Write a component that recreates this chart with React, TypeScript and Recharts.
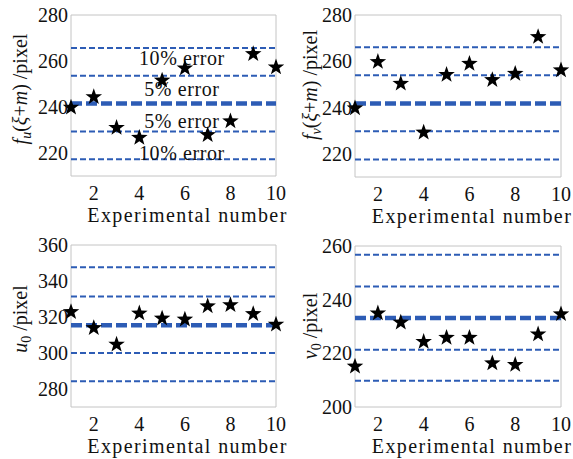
import React from "react";
import {
  ScatterChart,
  Scatter,
  XAxis,
  YAxis,
  ReferenceLine,
  ReferenceArea,
  ReferenceDot,
} from "recharts";

// experiment index on the x axis
const experiments = [1, 2, 3, 4, 5, 6, 7, 8, 9, 10];
const xTicks = [2, 4, 6, 8, 10];

// measured values per experiment
const fuValues = [240.2, 244.8, 231.4, 227.1, 252.0, 257.3, 228.3, 234.3, 263.5, 257.7];
const fvValues = [240.2, 260.2, 250.8, 229.7, 254.6, 259.4, 252.4, 255.1, 271.0, 256.6];
const u0Values = [323.4, 314.5, 305.3, 322.6, 319.8, 319.2, 326.6, 327.2, 322.3, 316.4];
const v0Values = [215.5, 235.3, 231.9, 224.7, 226.2, 226.2, 216.7, 216.1, 227.5, 235.0];

// dashed lines: -10%, -5%, reference, +5%, +10%
const fuLines = [217.3, 229.4, 241.5, 253.6, 265.7];
const fvLines = [217.6, 229.8, 241.8, 254.0, 266.1];
const u0Lines = [284.3, 300.0, 315.4, 331.4, 347.7];
const v0Lines = [209.8, 221.3, 233.2, 244.9, 256.7];

const fuTicks = [220, 240, 260, 280];
const fvTicks = [220, 240, 260, 280];
const u0Ticks = [280, 300, 320, 340, 360];
const v0Ticks = [200, 220, 240, 260];

// error annotations (top-left panel only)
const errorLabels = ["10% error", "5% error", "5% error", "10% error"];
const errorLabelY = [261.5, 247.8, 234.0, 220.2];
const errorLabelX = 5.87;

const FONT = "Liberation Serif, DejaVu Serif, serif";
const BLUE = "#2d5cb5";
const FRAME = "#c4c4c4";
const textStyle = { fontFamily: FONT };

function starPoints(cx: number, cy: number, R: number, r: number) {
  const pts: string[] = [];
  for (let i = 0; i < 10; i++) {
    const a = ((-90 + i * 36) * Math.PI) / 180;
    const rad = i % 2 === 0 ? R : r;
    pts.push(`${cx + rad * Math.cos(a)},${cy + rad * Math.sin(a)}`);
  }
  return pts.join(" ");
}

const Star = (props: any) => {
  const { cx, cy } = props;
  if (cx == null || cy == null) return null;
  return <polygon points={starPoints(cx, cy + 1, 8.7, 3.5)} fill="#000" />;
};

type LabelPart = { t: string; italic?: boolean; sub?: boolean };

const fuLabel: LabelPart[] = [
  { t: "f", italic: true },
  { t: "u", italic: true, sub: true },
  { t: "(" },
  { t: "ξ", italic: true },
  { t: "+" },
  { t: "m", italic: true },
  { t: ") /pixel" },
];
const fvLabel: LabelPart[] = [
  { t: "f", italic: true },
  { t: "v", italic: true, sub: true },
  { t: "(" },
  { t: "ξ", italic: true },
  { t: "+" },
  { t: "m", italic: true },
  { t: ") /pixel" },
];
const u0Label: LabelPart[] = [
  { t: "u", italic: true },
  { t: "0", sub: true },
  { t: " /pixel" },
];
const v0Label: LabelPart[] = [
  { t: "v", italic: true },
  { t: "0", sub: true },
  { t: " /pixel" },
];

function renderParts(parts: LabelPart[]) {
  let shift = 0;
  return parts.map((p, i) => {
    const target = p.sub ? 6 : 0;
    const dy = target - shift;
    shift = target;
    return (
      <tspan
        key={i}
        dy={dy}
        style={{ fontStyle: p.italic ? "italic" : "normal" }}
        fontSize={p.sub ? 14 : 20}
      >
        {p.t}
      </tspan>
    );
  });
}

interface PanelProps {
  values: number[];
  lines: number[];
  domain: [number, number];
  ticks: number[];
  label: LabelPart[];
  left: number;
  top: number;
  width: number;
  height: number;
  yAxisWidth: number;
  marginTop: number;
  marginRight: number;
  xAxisHeight: number;
  labelY: number;
  annotate?: boolean;
}

function Panel(p: PanelProps) {
  const data = experiments.map((x, i) => ({ x, y: p.values[i] }));
  const tickStyle = { fontSize: 20, fill: "#111", style: textStyle };
  return (
    <div style={{ position: "absolute", left: p.left, top: p.top }}>
      <ScatterChart
        width={p.width}
        height={p.height}
        margin={{ top: p.marginTop, right: p.marginRight, left: 0, bottom: 0 }}
        style={textStyle}
      >
        <XAxis
          type="number"
          dataKey="x"
          domain={[1, 10]}
          ticks={xTicks}
          height={p.xAxisHeight}
          axisLine={false}
          tickLine={false}
          tickSize={0}
          tickMargin={10}
          tick={tickStyle}
          label={(lp: any) => {
            const vb = lp.viewBox || {};
            const cx = vb.x + vb.width / 2 + 14;
            return (
              <text
                x={cx}
                y={vb.y + 46}
                textAnchor="middle"
                fontSize={20}
                style={textStyle}
                fill="#111"
                letterSpacing={1.4}
              >
                Experimental number
              </text>
            );
          }}
        />
        <YAxis
          type="number"
          dataKey="y"
          domain={p.domain}
          ticks={p.ticks}
          width={p.yAxisWidth}
          axisLine={false}
          tickLine={false}
          tickSize={0}
          tickMargin={3}
          tick={tickStyle}
          allowDataOverflow
          label={() => {
            const cx = 20;
            const cy = p.labelY;
            return (
              <text
                x={cx}
                y={cy}
                transform={`rotate(-90 ${cx} ${cy})`}
                textAnchor="middle"
                dominantBaseline="central"
                style={textStyle}
                fontSize={20}
                fill="#111"
              >
                {renderParts(p.label)}
              </text>
            );
          }}
        />
        <ReferenceArea
          x1={1}
          x2={10}
          y1={p.domain[0]}
          y2={p.domain[1]}
          fill="none"
          fillOpacity={0}
          stroke={FRAME}
          strokeWidth={1}
        />
        {p.lines.map((v, i) =>
          i === 2 ? (
            <ReferenceLine
              key={i}
              y={v}
              stroke={BLUE}
              strokeWidth={4.5}
              strokeDasharray="11 4"
            />
          ) : (
            <ReferenceLine
              key={i}
              y={v}
              stroke={BLUE}
              strokeWidth={2}
              strokeDasharray="6 3"
            />
          )
        )}
        {p.annotate &&
          errorLabels.map((t, i) => (
            <ReferenceDot
              key={`a${i}`}
              x={errorLabelX}
              y={errorLabelY[i]}
              r={0}
              shape={(sp: any) => (
                <text
                  x={sp.cx}
                  y={sp.cy}
                  textAnchor="middle"
                  dominantBaseline="central"
                  fontSize={20}
                  style={textStyle}
                  fill="#111"
                  letterSpacing={0.6}
                >
                  {t}
                </text>
              )}
            />
          ))}
        <Scatter data={data} shape={Star} isAnimationActive={false} />
      </ScatterChart>
    </div>
  );
}

export default function App() {
  return (
    <div
      style={{
        position: "absolute",
        left: 0,
        top: 0,
        width: 573,
        height: 459,
        background: "#fff",
        overflow: "hidden",
        fontFamily: FONT,
      }}
    >
      <Panel
        values={fuValues}
        lines={fuLines}
        domain={[210, 280]}
        ticks={fuTicks}
        label={fuLabel}
        left={0}
        top={0}
        width={290}
        height={230}
        yAxisWidth={71}
        marginTop={15}
        marginRight={14}
        xAxisHeight={54}
        labelY={89}
        annotate
      />
      <Panel
        values={fvValues}
        lines={fvLines}
        domain={[210, 280]}
        ticks={fvTicks}
        label={fvLabel}
        left={290}
        top={0}
        width={283}
        height={230}
        yAxisWidth={65}
        marginTop={15}
        marginRight={12}
        xAxisHeight={53}
        labelY={85}
      />
      <Panel
        values={u0Values}
        lines={u0Lines}
        domain={[270, 360]}
        ticks={u0Ticks}
        label={u0Label}
        left={0}
        top={230}
        width={290}
        height={229}
        yAxisWidth={71}
        marginTop={15}
        marginRight={14}
        xAxisHeight={52}
        labelY={89}
      />
      <Panel
        values={v0Values}
        lines={v0Lines}
        domain={[200, 260]}
        ticks={v0Ticks}
        label={v0Label}
        left={290}
        top={230}
        width={283}
        height={229}
        yAxisWidth={65}
        marginTop={16}
        marginRight={12}
        xAxisHeight={52}
        labelY={96}
      />
    </div>
  );
}
